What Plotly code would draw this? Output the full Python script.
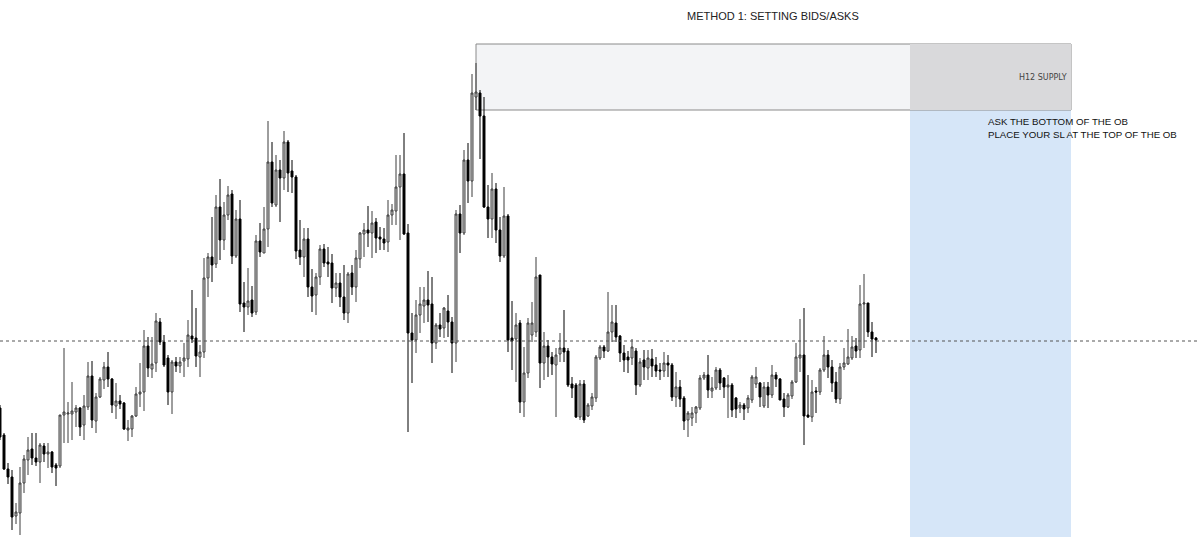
import plotly.graph_objects as go

# OHLC (arbitrary price units)
opens = [147, 120, 86, 78, 39, 42, 72, 95, 106, 97, 93, 109, 101, 103, 90, 89, 140, 141, 141, 143,
         147, 130, 148, 179, 134, 158, 175, 188, 176, 149, 154, 152, 125, 126, 139, 161, 163, 209, 186, 192,
         233, 213, 197, 163, 193, 189, 194, 196, 219, 217, 198, 203, 277, 298, 291, 348, 315, 340, 361, 299,
         336, 252, 248, 255, 243, 314, 302, 326, 393, 350, 385, 377, 413, 384, 378, 305, 298, 316, 268, 260,
         278, 306, 293, 292, 267, 272, 258, 242, 282, 268, 296, 321, 325, 322, 333, 318, 316, 313, 340, 344,
         368, 381, 322, 222, 215, 240, 249, 255, 251, 212, 230, 227, 244, 233, 212, 341, 322, 395, 374, 458,
         462, 439, 348, 336, 366, 325, 299, 339, 217, 216, 232, 153, 182, 220, 223, 280, 192, 209, 198, 190,
         201, 207, 204, 171, 170, 138, 171, 139, 149, 157, 197, 208, 204, 223, 232, 219, 202, 198, 197, 204,
         170, 195, 187, 196, 190, 185, 184, 192, 190, 158, 168, 157, 135, 137, 142, 147, 177, 180, 164, 167,
         185, 177, 168, 170, 157, 147, 150, 147, 155, 171, 172, 149, 168, 160, 180, 176, 156, 148, 159, 173,
         197, 200, 140, 138, 164, 163, 185, 200, 188, 173, 156, 188, 191, 197, 209, 205, 251, 252, 223, 217]
highs = [150, 122, 92, 85, 52, 88, 100, 118, 122, 122, 112, 112, 112, 104, 92, 140, 207, 153, 173, 150,
         148, 160, 193, 194, 162, 178, 193, 203, 177, 172, 160, 153, 135, 140, 168, 192, 225, 218, 218, 242,
         237, 220, 200, 195, 198, 198, 212, 235, 265, 247, 210, 297, 302, 338, 360, 376, 353, 369, 365, 345,
         355, 273, 287, 269, 320, 332, 348, 434, 413, 400, 395, 424, 415, 395, 380, 335, 327, 327, 286, 282,
         310, 311, 308, 301, 282, 282, 290, 283, 290, 305, 323, 332, 349, 344, 337, 328, 327, 355, 351, 400,
         400, 422, 331, 242, 255, 268, 268, 284, 278, 232, 242, 248, 260, 238, 345, 350, 405, 412, 481, 492,
         465, 458, 370, 382, 372, 338, 368, 341, 254, 242, 235, 208, 237, 253, 298, 280, 223, 215, 203, 207,
         222, 245, 207, 178, 172, 175, 175, 152, 162, 200, 210, 210, 263, 250, 250, 220, 210, 204, 216, 207,
         197, 205, 205, 206, 198, 192, 203, 200, 192, 183, 175, 159, 144, 148, 149, 180, 183, 200, 178, 188,
         187, 178, 180, 172, 158, 153, 152, 160, 180, 188, 173, 173, 173, 190, 183, 177, 162, 162, 175, 212,
         236, 247, 180, 175, 168, 187, 219, 205, 195, 183, 192, 207, 226, 219, 217, 270, 281, 252, 233, 218]
lows = [115, 85, 71, 25, 31, 20, 62, 80, 90, 89, 72, 93, 87, 82, 69, 87, 112, 112, 115, 128,
        119, 115, 145, 127, 122, 157, 166, 168, 142, 136, 146, 125, 114, 118, 138, 148, 144, 178, 177, 183,
        210, 188, 150, 141, 183, 182, 178, 188, 212, 188, 178, 197, 258, 273, 287, 295, 305, 335, 291, 297,
        243, 223, 240, 238, 240, 298, 302, 308, 348, 348, 333, 365, 363, 362, 296, 290, 278, 258, 243, 240,
        270, 288, 278, 252, 258, 248, 235, 232, 260, 253, 287, 298, 308, 297, 302, 305, 305, 303, 330, 330,
        315, 320, 123, 172, 202, 222, 232, 233, 192, 206, 218, 217, 218, 182, 193, 302, 320, 352, 358, 445,
        396, 347, 317, 317, 312, 293, 297, 203, 185, 173, 142, 138, 177, 213, 218, 167, 175, 178, 180, 138,
        193, 193, 168, 157, 137, 135, 132, 138, 145, 153, 195, 197, 203, 213, 213, 193, 183, 182, 190, 160,
        168, 175, 175, 178, 178, 175, 178, 178, 154, 148, 148, 125, 118, 129, 132, 145, 175, 157, 157, 165,
        165, 157, 137, 138, 137, 142, 135, 142, 152, 167, 148, 147, 147, 157, 168, 155, 138, 147, 156, 172,
        183, 110, 137, 133, 142, 160, 183, 177, 163, 152, 151, 185, 190, 195, 197, 197, 207, 218, 198, 202]
closes = [118, 86, 78, 38, 43, 72, 96, 105, 97, 93, 110, 101, 103, 88, 87, 140, 143, 142, 144, 147,
          128, 149, 179, 135, 158, 176, 188, 176, 150, 154, 151, 126, 127, 139, 161, 163, 209, 187, 191, 234,
          213, 190, 163, 193, 189, 193, 197, 220, 216, 199, 203, 277, 298, 290, 348, 315, 340, 360, 299, 336,
          251, 248, 254, 242, 314, 303, 326, 393, 352, 385, 377, 413, 382, 378, 304, 298, 316, 268, 259, 278,
          306, 292, 291, 267, 272, 258, 242, 281, 268, 297, 322, 325, 322, 332, 317, 316, 312, 340, 345, 368,
          381, 321, 222, 215, 240, 251, 255, 250, 212, 230, 226, 247, 233, 212, 341, 322, 395, 374, 462, 463,
          439, 348, 336, 366, 325, 299, 339, 215, 214, 230, 153, 182, 232, 232, 278, 192, 209, 198, 191, 200,
          207, 203, 170, 167, 138, 171, 135, 150, 158, 198, 208, 204, 223, 233, 218, 202, 195, 195, 208, 170,
          193, 188, 197, 189, 184, 184, 192, 190, 158, 168, 156, 134, 142, 142, 148, 177, 180, 165, 167, 185,
          172, 168, 170, 145, 146, 150, 146, 157, 178, 178, 158, 168, 160, 180, 176, 155, 148, 160, 173, 198,
          200, 139, 138, 163, 163, 185, 200, 188, 172, 156, 188, 192, 198, 208, 204, 251, 252, 223, 216, 215]
bars = list(range(len(opens)))

last_price = 214
supply_top, supply_bottom = 511, 445
supply_start, zone_start, zone_end = 119, 227.5, 267.75
zone_floor = 18

fig = go.Figure()
fig.add_trace(go.Candlestick(
    x=bars, open=opens, high=highs, low=lows, close=closes,
    increasing=dict(line=dict(color='#3c3c3c', width=1), fillcolor='#d8d8d8'),
    decreasing=dict(line=dict(color='#000000', width=1), fillcolor='#000000'),
    showlegend=False, hoverinfo='skip'
))

shapes = [
    # blue trade zone
    dict(type='rect', x0=zone_start, x1=zone_end, y0=zone_floor, y1=supply_bottom,
         fillcolor='#d6e6f8', line=dict(width=0), layer='below'),
    # H12 supply box
    dict(type='rect', x0=supply_start, x1=zone_end, y0=supply_bottom, y1=supply_top,
         fillcolor='#f3f4f6', line=dict(color='#8a8a8a', width=1), layer='below'),
    dict(type='rect', x0=zone_start, x1=zone_end, y0=supply_bottom, y1=supply_top,
         fillcolor='#d9d9db', line=dict(width=0), layer='below'),
    # current price line
    dict(type='line', xref='paper', x0=0, x1=1, y0=last_price, y1=last_price,
         line=dict(color='#555555', width=1, dash='dot'), layer='above'),
]

annotations = [
    dict(text='METHOD 1: SETTING BIDS/ASKS', xref='paper', yref='paper', x=0.644, y=0.985,
         showarrow=False, font=dict(size=11, color='#222222', family='Liberation Sans')),
    dict(text='H12 SUPPLY', x=zone_end - 0.6, y=(supply_top + supply_bottom) / 2,
         xanchor='right', showarrow=False, font=dict(size=8, color='#444444')),
    dict(text='ASK THE BOTTOM OF THE OB<br>PLACE YOUR SL AT THE TOP OF THE OB',
         x=246.5, y=supply_bottom - 4, xanchor='left', yanchor='top', align='left',
         showarrow=False, font=dict(size=9.7, color='#111111', family='Liberation Sans')),
]

fig.update_layout(
    width=1200, height=555,
    paper_bgcolor='white', plot_bgcolor='white',
    margin=dict(l=0, r=0, t=0, b=0),
    font=dict(family='DejaVu Sans'),
    shapes=shapes, annotations=annotations,
    xaxis=dict(range=[0, 300], visible=False, rangeslider=dict(visible=False)),
    yaxis=dict(range=[0, 555], visible=False),
    showlegend=False,
)

fig.write_html("out.html", config={'displayModeBar': False},
               post_script="document.body.style.margin='0px';")
